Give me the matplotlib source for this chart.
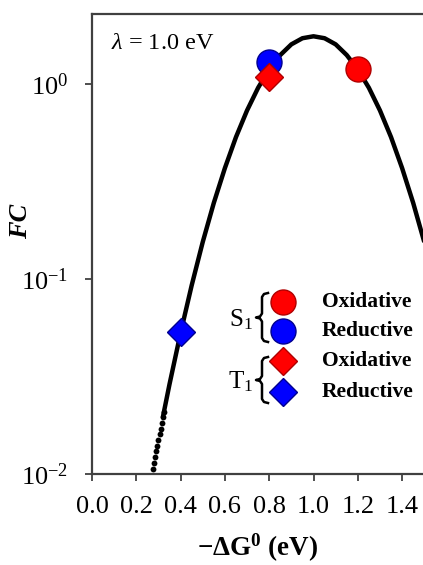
import matplotlib
matplotlib.use("Agg")
import matplotlib.pyplot as plt
from matplotlib.ticker import FixedLocator, NullLocator

plt.rcParams["font.family"] = ["Liberation Serif", "DejaVu Serif"]
plt.rcParams["mathtext.fontset"] = "custom"
plt.rcParams["mathtext.rm"] = "Liberation Serif"
plt.rcParams["mathtext.it"] = "Liberation Serif:italic"
plt.rcParams["mathtext.bf"] = "Liberation Serif:bold"

# Marcus curve (lambda = 1.0 eV)
curve_x = [0.32, 0.35, 0.40, 0.45, 0.50, 0.55, 0.60, 0.65, 0.70, 0.75, 0.80,
           0.85, 0.90, 0.95, 1.00, 1.05, 1.10, 1.15, 1.20, 1.25, 1.30, 1.35,
           1.40, 1.45, 1.50, 1.55]
curve_fc = [0.0196, 0.0289, 0.0530, 0.0928, 0.155, 0.246, 0.371, 0.535, 0.733,
            0.958, 1.19, 1.41, 1.60, 1.72, 1.76, 1.72, 1.60, 1.41, 1.19, 0.958,
            0.733, 0.535, 0.371, 0.246, 0.155, 0.0928]

# low-energy tail, drawn as separate dots
tail_x = [0.275, 0.280, 0.285, 0.290, 0.295, 0.300, 0.305, 0.310, 0.315, 0.320,
          0.325]
tail_fc = [0.0106, 0.0114, 0.0122, 0.0131, 0.0140, 0.0150, 0.0160, 0.0171,
           0.0183, 0.0196, 0.0209]

# S1 / T1 points
s1_ox = (1.2, 1.19)
s1_red = (0.8, 1.30)
t1_ox = (0.8, 1.09)
t1_red = (0.4, 0.0535)

x_ticks = [0.0, 0.2, 0.4, 0.6, 0.8, 1.0, 1.2, 1.4]
y_ticks = [0.01, 0.1, 1.0]
y_labels = [r"$10^{-2}$", r"$10^{-1}$", r"$10^{0}$"]

W, H = 423, 565
fig = plt.figure(figsize=(W / 100, H / 100), dpi=100)
ax = fig.add_axes([92 / W, 1 - 474 / H, 1.6 * 221.5 / W, 460 / H])

ax.plot(curve_x, curve_fc, color="black", lw=3.2, solid_capstyle="round", zorder=2)
ax.plot(tail_x, tail_fc, "o", color="black", ms=4.2, mew=0, zorder=2)

red = "#FF0000"
red_edge = "#B00000"
blue = "#0000FF"
blue_edge = "#000090"
ax.plot(*s1_red, "o", ms=18, mfc=blue, mec=blue_edge, mew=1, zorder=3)
ax.plot(*t1_ox, "D", ms=14, mfc=red, mec=red_edge, mew=1, zorder=4)
ax.plot(*s1_ox, "o", ms=18, mfc=red, mec=red_edge, mew=1, zorder=3)
ax.plot(*t1_red, "D", ms=14, mfc=blue, mec=blue_edge, mew=1, zorder=3)

ax.set_yscale("log")
ax.set_xlim(0, 1.6)
ax.set_ylim(0.01, 2.29)
ax.yaxis.set_major_locator(FixedLocator(y_ticks))
ax.yaxis.set_minor_locator(NullLocator())
ax.set_yticklabels(y_labels)
ax.set_xticks(x_ticks)
ax.set_xticklabels([f"{v:.1f}" for v in x_ticks])

for s in ax.spines.values():
    s.set_linewidth(1.6)
    s.set_color("#404040")
ax.tick_params(direction="out", length=5, width=1.3, color="#404040",
               labelsize=19, pad=11)
ax.tick_params(axis="y", pad=12)

ax.set_ylabel("FC", fontsize=19, fontweight="bold", style="italic")
ax.yaxis.set_label_coords(-0.168, 0.55)
fig.text(258 / W, 1 - 548 / H, r"$\mathbf{-\Delta G^{0}}$ (eV)", fontsize=19.5,
         fontweight="bold", ha="center", va="center")

ax.text(0.055, 0.935, r"$\lambda$ = 1.0 eV", transform=ax.transAxes,
        fontsize=17.5, va="center", ha="left")

# legend with braces, in axes fraction
def px(xp, yp):
    return (xp - 92) / 354.4, (474 - yp) / 460

rows = [
    (302, "o", 18, red, red_edge, "Oxidative"),
    (331, "o", 18, blue, blue_edge, "Reductive"),
    (361, "D", 14, red, red_edge, "Oxidative"),
    (392, "D", 14, blue, blue_edge, "Reductive"),
]
for yp, mk, ms, fc, ec, label in rows:
    mx, my = px(283, yp)
    ax.plot([mx], [my], mk, ms=ms, mfc=fc, mec=ec, mew=1,
            transform=ax.transAxes, clip_on=False)
    tx, ty = px(322, yp)
    ax.text(tx, ty, label, transform=ax.transAxes, fontsize=15.5,
            fontweight="bold", va="center", ha="left")


def brace(top, bot, xv=262):
    mid = (top + bot) / 2
    pts = [(xv + 6, top), (xv + 2, top + 1), (xv, top + 4), (xv, mid - 4),
           (xv - 2, mid - 1), (xv - 6, mid), (xv - 2, mid + 1), (xv, mid + 4),
           (xv, bot - 4), (xv + 2, bot - 1), (xv + 6, bot)]
    xs, ys = zip(*[px(a, b) for a, b in pts])
    ax.plot(xs, ys, color="black", lw=1.8, transform=ax.transAxes,
            clip_on=False, solid_joinstyle="round")
    return mid


m1 = brace(293, 342)
m2 = brace(357, 403)
lx, ly = px(253, m1 + 2)
ax.text(lx, ly, r"$\mathrm{S}_{1}$", transform=ax.transAxes, fontsize=18,
        ha="right", va="center")
lx, ly = px(253, m2 + 2)
ax.text(lx, ly, r"$\mathrm{T}_{1}$", transform=ax.transAxes, fontsize=18,
        ha="right", va="center")

fig.savefig("out.png", dpi=100)
